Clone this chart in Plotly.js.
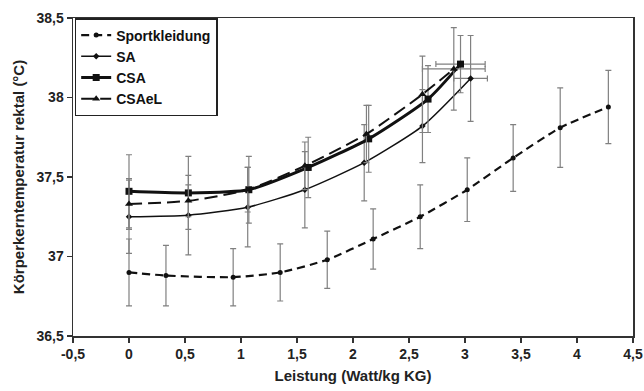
<!DOCTYPE html>
<html>
<head>
<meta charset="utf-8">
<script src="https://cdn.plot.ly/plotly-3.0.1.min.js"></script>
<style>html,body{margin:0;padding:0;background:#fff;}#chart{width:644px;height:391px;}</style>
</head>
<body>
<div id="chart"></div>
<script>
// ---- data ----
const seriesNames = ["Sportkleidung", "SA", "CSA", "CSAeL"];

const sportX   = [0, 0.33, 0.93, 1.35, 1.77, 2.18, 2.60, 3.02, 3.43, 3.85, 4.28];
const sportY   = [36.90, 36.88, 36.87, 36.90, 36.98, 37.11, 37.25, 37.42, 37.62, 37.81, 37.94];
const sportErr = [0.21, 0.19, 0.18, 0.18, 0.18, 0.19, 0.20, 0.20, 0.21, 0.25, 0.23];

const saX    = [0, 0.53, 1.06, 1.57, 2.10, 2.62, 3.05];
const saY    = [37.25, 37.26, 37.31, 37.42, 37.59, 37.82, 38.12];
const saErr  = [0.23, 0.25, 0.25, 0.24, 0.24, 0.23, 0.27];
const saXErr = [NaN, NaN, NaN, NaN, NaN, NaN, 0.15];

const csaX    = [0, 0.53, 1.07, 1.60, 2.14, 2.67, 2.96];
const csaY    = [37.41, 37.40, 37.42, 37.56, 37.74, 37.99, 38.21];
const csaErr  = [0.23, 0.23, 0.21, 0.19, 0.21, 0.21, 0.18];
const csaXErr = [NaN, NaN, NaN, NaN, NaN, NaN, 0.22];

const cseX    = [0, 0.53, 1.06, 1.57, 2.12, 2.62, 2.90];
const cseY    = [37.33, 37.35, 37.42, 37.57, 37.77, 38.02, 38.18];
const cseErr  = [0.16, 0.10, 0.14, 0.15, 0.18, 0.24, 0.26];
const cseXErr = [NaN, NaN, NaN, NaN, NaN, NaN, 0.28];

const xTickVals = [-0.5, 0, 0.5, 1, 1.5, 2, 2.5, 3, 3.5, 4, 4.5];
const xTickText = ["-0,5", "0", "0,5", "1", "1,5", "2", "2,5", "3", "3,5", "4", "4,5"];
const yTickVals = [36.5, 37, 37.5, 38, 38.5];
const yTickText = ["36,5", "37", "37,5", "38", "38,5"];

const xTitle = "Leistung (Watt/kg KG)";
const yTitle = "Körperkerntemperatur rektal (°C)";

// ---- styling ----
const errCol = "#808080";
function ey(arr){ return {type:"data", array:arr, visible:true, color:errCol, thickness:1.2, width:3}; }
function ex(arr){ return {type:"data", array:arr, visible:true, color:errCol, thickness:1.2, width:3}; }

const traces = [
  {x: sportX, y: sportY, name: seriesNames[0], mode: "lines+markers",
   line: {color: "#111", width: 2.2, dash: "8px,5px", shape: "spline", smoothing: 0.6},
   marker: {symbol: "circle", size: 5, color: "#111"},
   error_y: ey(sportErr)},
  {x: saX, y: saY, name: seriesNames[1], mode: "lines+markers",
   line: {color: "#111", width: 1.5, shape: "spline", smoothing: 0.6},
   marker: {symbol: "diamond", size: 5, color: "#111"},
   error_y: ey(saErr), error_x: ex(saXErr)},
  {x: csaX, y: csaY, name: seriesNames[2], mode: "lines+markers",
   line: {color: "#111", width: 3, shape: "spline", smoothing: 0.6},
   marker: {symbol: "square", size: 7, color: "#111"},
   error_y: ey(csaErr), error_x: ex(csaXErr)},
  {x: cseX, y: cseY, name: seriesNames[3], mode: "lines+markers",
   line: {color: "#111", width: 2, dash: "13px,6px", shape: "spline", smoothing: 0.6},
   marker: {symbol: "triangle-up", size: 7, color: "#111"},
   error_y: ey(cseErr), error_x: ex(cseXErr)}
];

const fontFam = "Liberation Sans, Arial, sans-serif";
const layout = {
  width: 644, height: 391,
  margin: {l: 73, r: 11, t: 18, b: 55},
  paper_bgcolor: "#fff", plot_bgcolor: "#fff",
  separators: ",.",
  showlegend: true,
  legend: {x: 0.003, y: 1, xanchor: "left", yanchor: "top",
           bgcolor: "#fff", bordercolor: "#222", borderwidth: 1.5,
           font: {family: fontFam, size: 14, color: "#111", weight: "bold"},
           tracegroupgap: 0, itemwidth: 30},
  xaxis: {range: [-0.5, 4.5], tickmode: "array", tickvals: xTickVals, ticktext: xTickText,
          showgrid: false, zeroline: false, showline: true, linecolor: "#333", linewidth: 1.5,
          mirror: true, ticks: "outside", ticklen: 5, tickcolor: "#333", tickwidth: 1.2,
          tickfont: {family: fontFam, size: 14, color: "#222", weight: "bold"},
          title: {text: xTitle, font: {family: fontFam, size: 15, color: "#222", weight: "bold"}, standoff: 9}},
  yaxis: {range: [36.5, 38.5], tickmode: "array", tickvals: yTickVals, ticktext: yTickText,
          showgrid: false, zeroline: false, showline: true, linecolor: "#333", linewidth: 1.5,
          mirror: true, ticks: "outside", ticklen: 5, tickcolor: "#333", tickwidth: 1.2,
          tickfont: {family: fontFam, size: 14, color: "#222", weight: "bold"},
          title: {text: yTitle, font: {family: fontFam, size: 15, color: "#222", weight: "bold"}, standoff: 8}}
};

Plotly.newPlot("chart", traces, layout, {displayModeBar: false, staticPlot: true});
</script>
</body>
</html>
